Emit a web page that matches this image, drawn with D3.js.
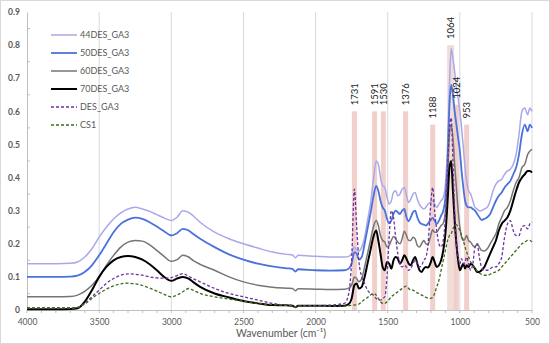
<!DOCTYPE html>
<html><head><meta charset="utf-8">
<script src="https://cdn.jsdelivr.net/npm/d3@7"></script>
<style>body{margin:0;background:#fff} svg{display:block} text{font-family:Lato,'Open Sans',sans-serif}</style>
</head><body><svg id="c" width="550" height="344"></svg>
<script>
const wavenumbers = [4000,3800,3700,3650,3600,3550,3500,3450,3400,3350,3300,3250,3200,3150,3100,3050,3000,2960,2920,2880,2850,2800,2700,2600,2500,2400,2300,2200,2160,2140,2120,2000,1900,1800,1770,1750,1731,1715,1700,1680,1660,1640,1620,1600,1580,1565,1550,1535,1520,1505,1490,1475,1460,1445,1430,1415,1400,1385,1370,1355,1340,1325,1310,1295,1280,1265,1250,1235,1220,1205,1188,1175,1160,1145,1130,1115,1100,1085,1072,1060,1048,1036,1024,1012,1000,988,976,964,953,940,925,910,895,880,865,850,830,810,790,770,750,730,710,690,670,650,630,610,590,570,550,530,515,500];

const des44 = [.14,.14,.141,.145,.16,.185,.22,.25,.275,.293,.305,.31,.305,.298,.288,.278,.27,.28,.30,.295,.285,.265,.235,.215,.20,.187,.175,.168,.166,.158,.165,.162,.16,.16,.162,.17,.19,.18,.178,.19,.22,.27,.32,.39,.45,.44,.40,.375,.37,.34,.32,.33,.355,.36,.345,.35,.365,.37,.345,.325,.335,.35,.355,.335,.318,.31,.305,.31,.32,.325,.33,.32,.31,.32,.33,.34,.38,.50,.68,.79,.76,.72,.67,.64,.60,.55,.49,.43,.39,.36,.35,.33,.31,.305,.30,.30,.305,.31,.33,.36,.38,.39,.395,.41,.42,.425,.44,.47,.53,.60,.61,.59,.61,.60];

const des50 = [.10,.10,.101,.104,.115,.135,.165,.20,.235,.26,.273,.279,.275,.265,.252,.238,.225,.232,.245,.24,.23,.215,.19,.168,.152,.14,.132,.126,.124,.116,.123,.12,.119,.12,.125,.14,.175,.17,.152,.16,.20,.245,.29,.34,.375,.36,.33,.31,.30,.275,.262,.27,.29,.30,.295,.29,.30,.305,.28,.268,.28,.295,.30,.28,.265,.26,.258,.255,.262,.27,.278,.27,.26,.27,.285,.30,.34,.45,.62,.68,.65,.60,.56,.52,.48,.42,.37,.33,.315,.31,.31,.305,.30,.29,.28,.272,.275,.28,.29,.31,.33,.345,.355,.37,.38,.39,.41,.43,.47,.53,.56,.54,.56,.55];

const des60 = [.04,.04,.041,.045,.056,.075,.10,.135,.165,.19,.205,.21,.208,.197,.18,.162,.147,.152,.165,.16,.15,.138,.12,.10,.085,.075,.069,.066,.065,.058,.064,.063,.062,.063,.066,.075,.10,.095,.085,.095,.13,.17,.21,.25,.27,.255,.225,.21,.205,.19,.195,.21,.222,.215,.205,.20,.215,.238,.225,.21,.21,.22,.215,.195,.19,.20,.21,.20,.198,.22,.242,.235,.235,.245,.255,.262,.30,.40,.53,.56,.52,.44,.37,.30,.25,.22,.21,.215,.225,.21,.205,.195,.19,.20,.19,.18,.178,.185,.20,.215,.23,.26,.28,.30,.31,.33,.36,.385,.40,.43,.44,.47,.48,.485];

const des70 = [.002,.002,.003,.005,.025,.06,.10,.13,.15,.16,.163,.16,.152,.138,.12,.10,.088,.095,.10,.095,.085,.07,.05,.038,.027,.02,.015,.014,.013,.008,.013,.013,.012,.013,.018,.035,.075,.08,.065,.07,.10,.14,.18,.22,.24,.21,.17,.13,.12,.145,.14,.125,.15,.16,.155,.14,.15,.165,.155,.14,.135,.15,.16,.14,.12,.115,.125,.13,.128,.14,.16,.145,.13,.135,.15,.18,.23,.33,.43,.45,.36,.27,.20,.15,.12,.13,.14,.125,.135,.13,.14,.135,.125,.115,.115,.12,.13,.15,.17,.19,.21,.24,.26,.27,.28,.30,.33,.36,.385,.40,.41,.42,.42,.415];

const desGA3 = [.006,.006,.006,.008,.02,.04,.06,.08,.095,.105,.109,.108,.105,.10,.097,.096,.098,.104,.11,.102,.095,.085,.065,.05,.04,.03,.02,.015,.014,.008,.013,.013,.015,.02,.05,.15,.365,.25,.15,.10,.08,.06,.05,.045,.035,.03,.03,.035,.04,.10,.22,.30,.28,.22,.17,.14,.13,.135,.13,.12,.125,.14,.15,.14,.13,.135,.15,.16,.20,.30,.37,.30,.24,.20,.19,.21,.28,.42,.55,.58,.45,.30,.20,.16,.14,.155,.14,.145,.16,.14,.12,.14,.19,.20,.16,.13,.12,.12,.125,.13,.13,.14,.16,.22,.26,.27,.24,.225,.225,.25,.255,.245,.26,.265];

const cs1 = [.006,.006,.006,.008,.018,.035,.05,.063,.073,.079,.081,.079,.074,.066,.057,.047,.04,.045,.055,.065,.06,.05,.04,.033,.027,.02,.016,.014,.013,.008,.012,.012,.012,.012,.013,.014,.015,.016,.018,.025,.032,.038,.045,.05,.045,.035,.025,.02,.02,.025,.032,.04,.045,.05,.055,.06,.065,.07,.072,.065,.06,.06,.055,.052,.05,.045,.042,.038,.036,.035,.038,.05,.07,.09,.12,.15,.18,.21,.225,.23,.245,.255,.258,.25,.24,.225,.21,.19,.175,.16,.145,.135,.125,.118,.112,.108,.105,.105,.108,.112,.115,.12,.13,.14,.15,.16,.17,.18,.19,.20,.205,.21,.21,.205];

const seriesNames = ["44DES_GA3","50DES_GA3","60DES_GA3","70DES_GA3","DES_GA3","CS1"];
const seriesValues = [des44, des50, des60, des70, desGA3, cs1];
const bandPositions = [1731,1591,1530,1376,1188,1064,1024,953];
const bandHeights = [0.6,0.6,0.6,0.6,0.56,0.8,0.62,0.56];
const xTicks = [4000,3500,3000,2500,2000,1500,1000,500];
const yTicks = [0,0.1,0.2,0.3,0.4,0.5,0.6,0.7,0.8,0.9];

const styles = [
  {color:"#a9a9ea", width:1.5, dash:null},
  {color:"#4a72dc", width:1.8, dash:null},
  {color:"#757575", width:1.5, dash:null},
  {color:"#000000", width:2, dash:null},
  {color:"#7030a0", width:1.3, dash:"3,2"},
  {color:"#3f6a1c", width:1.3, dash:"3,2"}
];

const svg = d3.select("#c");
svg.append("rect").attr("x",0.5).attr("y",0.5).attr("width",549).attr("height",343)
  .attr("fill","#fff").attr("stroke","#d9d9d9");

const x = d3.scaleLinear().domain([4000,500]).range([27,532]);
const y = d3.scaleLinear().domain([0,0.9]).range([310,12]);

// vertical gridlines
svg.append("g").selectAll("line").data(xTicks.slice(1)).join("line")
  .attr("x1",d=>x(d)).attr("x2",d=>x(d)).attr("y1",y(0.9)).attr("y2",y(0))
  .attr("stroke","#d9d9d9").attr("stroke-width",1);

// bands
svg.append("g").selectAll("rect").data(bandPositions).join("rect")
  .attr("x",d=>x(d)-(d===1064?3.5:2.5)).attr("width",d=>d===1064?7:5)
  .attr("y",(d,i)=>y(bandHeights[i])).attr("height",(d,i)=>y(0)-y(bandHeights[i]))
  .attr("fill",d=>d===1064?"#e6c2b8":"#e6aaa2").attr("opacity",0.55);

// axes
const xAxis = d3.axisBottom(x).tickValues(xTicks).tickSize(0).tickPadding(9).tickFormat(d3.format("d"));
const gx = svg.append("g").attr("transform",`translate(0,${y(0)})`).call(xAxis);
gx.select(".domain").attr("stroke","#bfbfbf");
gx.selectAll("text").attr("fill","#595959").style("font-size","8.5px").style("font-family","Lato");
const xMinor = d3.range(500,4001,100);
svg.append("g").selectAll("line").data(xMinor).join("line")
  .attr("x1",d=>x(d)).attr("x2",d=>x(d)).attr("y1",y(0)).attr("y2",y(0)+3)
  .attr("stroke","#bfbfbf");

const yAxis = d3.axisLeft(y).tickValues(yTicks).tickSize(0).tickPadding(7).tickFormat(d=>d===0?"0":d3.format(".1f")(d));
const gy = svg.append("g").attr("transform",`translate(${x(4000)},0)`).call(yAxis);
gy.select(".domain").attr("stroke","#bfbfbf");
gy.selectAll("text").attr("fill","#595959").style("font-size","8.5px").style("font-family","Lato").style("font-weight","bold");
const yMinor = d3.range(0.05,0.9,0.1);
svg.append("g").selectAll("line").data(yMinor).join("line")
  .attr("x1",x(4000)).attr("x2",x(4000)+3).attr("y1",d=>y(d)).attr("y2",d=>y(d))
  .attr("stroke","#bfbfbf");

// lines
const line = d3.line().x((d,i)=>x(wavenumbers[i])).y(d=>y(d)).curve(d3.curveMonotoneX);
seriesValues.forEach((vals,k)=>{
  svg.append("path").datum(vals).attr("d",line).attr("fill","none")
    .attr("stroke",styles[k].color).attr("stroke-width",styles[k].width)
    .attr("stroke-dasharray",styles[k].dash).attr("stroke-linejoin","round");
});

// band labels
svg.append("g").selectAll("text").data(bandPositions).join("text")
  .attr("transform",(d,i)=>`translate(${x(d)+3.5},${y(bandHeights[i])-6}) rotate(-90)`)
  .attr("text-anchor","start").style("font-size","9.5px").attr("fill","#1a1a1a")
  .text(d=>d);

// legend
const lg = svg.append("g");
seriesNames.forEach((n,k)=>{
  const yy = 35 + k*18;
  lg.append("line").attr("x1",51).attr("x2",77).attr("y1",yy).attr("y2",yy)
    .attr("stroke",styles[k].color).attr("stroke-width",styles[k].width)
    .attr("stroke-dasharray",styles[k].dash);
  lg.append("text").attr("x",80).attr("y",yy+3.2).style("font-size","9px").attr("fill","#595959").text(n);
});

// axis title
svg.append("text").attr("x",281).attr("y",337).attr("text-anchor","middle")
  .style("font-size","10.5px").attr("fill","#595959").text("Wavenumber (cm\u207B\u00B9)");
</script></body></html>
